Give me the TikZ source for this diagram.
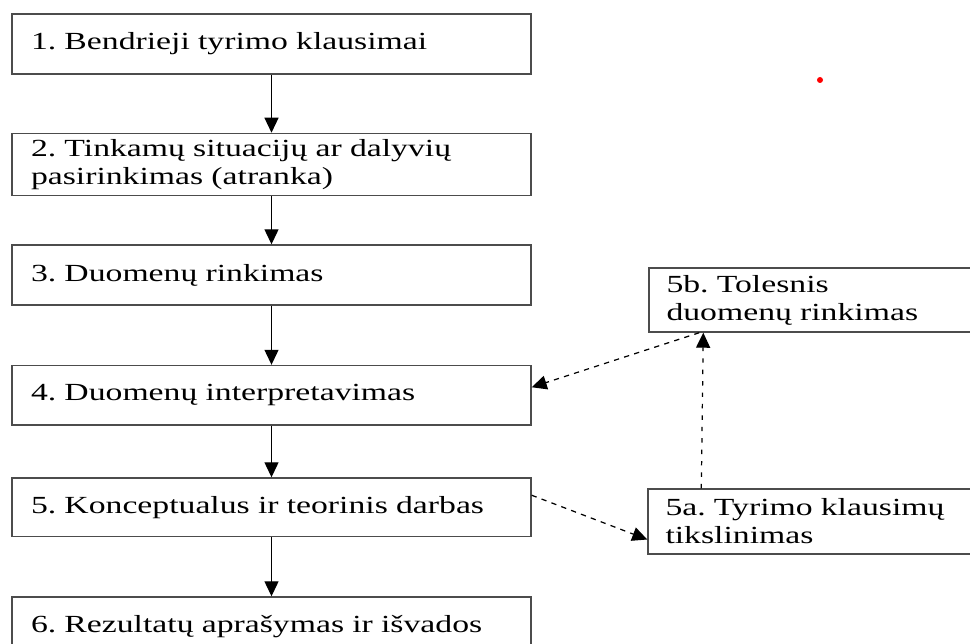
\documentclass[tikz,border=0pt]{standalone}
\usepackage{fontspec}
\setmainfont{Liberation Serif}[FakeStretch=1.37]
\usetikzlibrary{positioning, arrows.meta, calc}
\tikzset{
    stagebox/.style={rectangle, draw=black!70, line width=0.8pt, minimum width=10.38cm, text width=9.62cm, inner xsep=0.38cm, align=left, font=\fontsize{14}{16}\selectfont\frenchspacing},
    sidebox/.style={rectangle, draw=black!70, line width=0.8pt, minimum width=7cm, text width=6.3cm, inner xsep=0.35cm, align=left, font=\fontsize{14}{16}\selectfont\frenchspacing},
    flow/.style={draw, line width=0.7pt, -{Triangle[length=0.3cm, width=0.28cm]}},
    dashflow/.style={flow, dash pattern=on 3pt off 3pt},
    dotflow/.style={flow, dash pattern=on 2.5pt off 4pt}
}
\begin{document}
\begin{tikzpicture}
\useasboundingbox (0,0) rectangle (19.4,-12.88);
\clip (0,0) rectangle (19.4,-12.88);

% Main steps
\node[stagebox, minimum height=1.2cm] (b1) at (5.43,-0.88) {1. Bendrieji tyrimo klausimai};
\node[stagebox, minimum height=1.22cm] (b2) at (5.43,-3.29) {2. Tinkamų situacijų ar dalyvių\\ pasirinkimas (atranka)};
\node[stagebox, minimum height=1.2cm] (b3) at (5.43,-5.5) {3. Duomenų rinkimas};
\node[stagebox, minimum height=1.19cm] (b4) at (5.43,-7.905) {4. Duomenų interpretavimas};
\node[stagebox, minimum height=1.17cm] (b5) at (5.43,-10.145) {5. Konceptualus ir teorinis darbas};
\node[stagebox, minimum height=1.2cm] (b6) at (5.43,-12.54) {6. Rezultatų aprašymas ir išvados};

\draw[flow] (b1) -- (b2);
\draw[flow] (b2) -- (b3);
\draw[flow] (b3) -- (b4);
\draw[flow] (b4) -- (b5);
\draw[flow] (b5) -- (b6);

% Side loop
\node[sidebox, minimum height=1.28cm] (b5b) at (16.48,-6.0) {5b. Tolesnis\\ duomenų rinkimas};
\node[sidebox, minimum height=1.3cm] (b5a) at (16.46,-10.43) {5a. Tyrimo klausimų\\ tikslinimas};

\draw[dashflow] ([yshift=0.24cm]b5.east) -- ([yshift=-0.36cm]b5a.west);
\draw[dotflow] ([xshift=1.08cm]b5a.north west) -- ([xshift=1.1cm]b5b.south west);
\draw[dashflow] ([xshift=1.02cm]b5b.south west) -- ([yshift=0.16cm]b4.east);

\fill[red] (16.4,-1.6) circle (0.06cm);
\end{tikzpicture}
\end{document}
